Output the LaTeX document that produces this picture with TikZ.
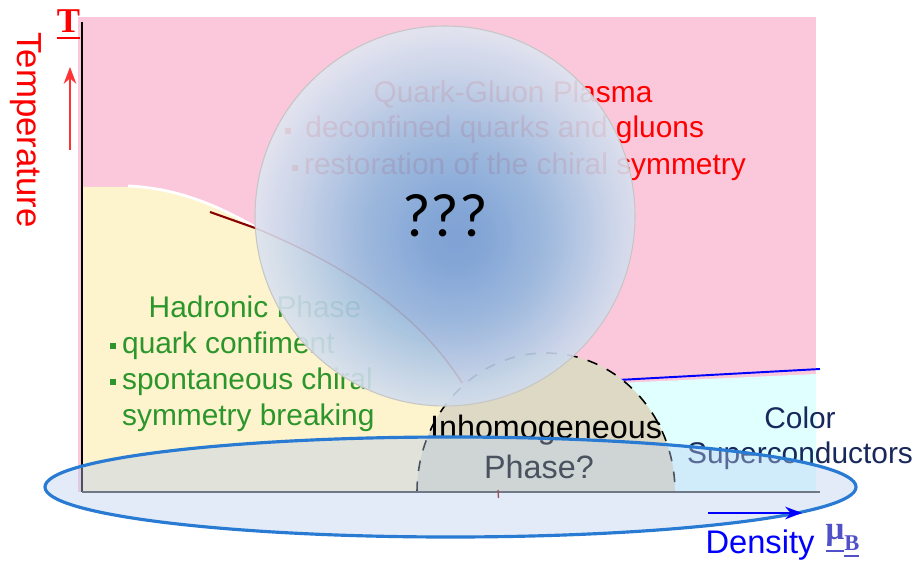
\documentclass[tikz,border=0pt]{standalone}
\usepackage{fontspec}
\setmainfont{Liberation Sans}
\newfontfamily\serifbf{Liberation Serif}
\newfontfamily\qfont{Carlito}
\usetikzlibrary{positioning, arrows.meta}

\definecolor{qgppink}{RGB}{251,199,219}
\definecolor{hadyellow}{RGB}{253,243,205}
\definecolor{cscyan}{RGB}{224,255,255}
\definecolor{inhomtan}{RGB}{222,217,196}
\definecolor{hadgreen}{RGB}{44,150,44}
\definecolor{csnavy}{RGB}{25,40,90}
\definecolor{ellblue}{RGB}{40,122,210}
\definecolor{ellfill}{RGB}{185,205,240}
\definecolor{mubl}{RGB}{80,80,200}
\definecolor{firstorder}{RGB}{139,0,0}

\pgfdeclareradialshading{bubble}{\pgfpoint{1.5bp}{-3bp}}{%
  rgb(0bp)=(0.45,0.62,0.83); rgb(4bp)=(0.47,0.64,0.84);
  rgb(12bp)=(0.58,0.72,0.87); rgb(21bp)=(0.78,0.84,0.92);
  rgb(27bp)=(0.89,0.91,0.95); rgb(50bp)=(0.89,0.91,0.95)}

\newcommand{\sqbullet}{\hspace{0.03em}\raisebox{0.28ex}{\rule{0.2em}{0.2em}}\hspace{0.22em}}

\begin{document}
\begin{tikzpicture}[
  >=Stealth,
  phasetxt/.style={font=\fontsize{8.5}{10.3}\selectfont, inner sep=0pt},
  inhomtxt/.style={font=\fontsize{9.2}{11.4}\selectfont, inner sep=0pt},
  axislbl/.style={font=\fontsize{9.3}{11}\selectfont, inner sep=0pt},
  axisline/.style={line width=0.6pt},
]
\useasboundingbox (0,0) rectangle (9.19,5.60);

% === Phase regions ===
\fill[qgppink] (0.78,0.68) rectangle (8.16,5.43);

\fill[hadyellow] (0.82,0.68) -- (0.82,3.73) -- (1.28,3.73)
  .. controls (1.75,3.71) and (2.15,3.55) .. (2.55,3.32)
  .. controls (3.2,3.05) and (4.1,2.6) .. (4.62,1.77)
  -- (4.7,0.68) -- cycle;
\draw[white, line width=0.8pt] (1.28,3.74)
  .. controls (1.75,3.72) and (2.15,3.56) .. (2.55,3.33);
\draw[firstorder, line width=0.6pt] (2.10,3.48) -- (2.55,3.32);

\fill[cscyan] (6.18,1.77) -- (8.16,1.86) -- (8.16,0.68) -- (6.0,0.68) -- cycle;
\draw[blue, line width=0.55pt] (6.18,1.80) -- (8.20,1.91);

% inhomogeneous dome
\filldraw[fill=inhomtan, dashed, line width=0.45pt]
  (4.17,0.68) arc[start angle=180, end angle=0, x radius=1.29, y radius=1.39] -- cycle;

% === Axes ===
\coordinate (origin) at (0.82,0.68);
\coordinate (ytop) at (0.82,5.38);
\coordinate (xend) at (8.20,0.68);
\draw[axisline, black] (ytop) -- (origin);
\draw[axisline, black!75] (origin) -- (xend);
\draw[firstorder, line width=0.4pt] (4.98,0.70) -- (4.985,0.62);

% === Phase labels ===
\node[phasetxt, text=red, anchor=base] (qgptitle) at (5.13,4.57) {Quark-Gluon Plasma};
\node[phasetxt, text=red, anchor=base west] (qgpdeconf) at (2.83,4.22)
  {\sqbullet\ deconfined quarks and gluons};
\node[phasetxt, text=red, anchor=base west] (qgpchiral) at (2.90,3.85)
  {\sqbullet restoration of the chiral symmetry};

\node[phasetxt, text=hadgreen, anchor=base] (hadtitle) at (2.55,2.43) {Hadronic Phase};
\node[phasetxt, text=hadgreen, anchor=base west] (hadconf) at (1.08,2.07)
  {\sqbullet quark confiment};
\node[phasetxt, text=hadgreen, anchor=base west] (hadchiral) at (1.08,1.71)
  {\sqbullet spontaneous chiral};
\node[phasetxt, text=hadgreen, anchor=base west] (hadbreak) at (1.08,1.35)
  {\phantom{\sqbullet}symmetry breaking};

\node[inhomtxt, anchor=base] (inhom) at (5.46,1.22) {Inhomogeneous};
\node[inhomtxt, anchor=base] (inhomq) at (5.39,0.82) {Phase?};

\node[phasetxt, text=csnavy, anchor=base] (cscolor) at (8.00,1.32) {Color};
\node[phasetxt, text=csnavy, anchor=base] (cssuper) at (8.00,0.97) {Superconductors};

% === Unknown region ===
\path[shading=bubble, fill opacity=0.9] (4.45,3.44) circle (1.90);
\draw[gray!45, line width=0.3pt] (4.45,3.44) circle (1.90);
\draw[firstorder, opacity=0.12, line width=0.4pt] (2.55,3.32)
  .. controls (3.2,3.05) and (4.1,2.6) .. (4.62,1.77);
\node[font=\qfont\fontsize{17.5}{20}\selectfont, inner sep=0pt, anchor=base]
  (unknown) at (4.45,3.23) {???};

% === Low temperature band ===
\filldraw[fill=ellfill, fill opacity=0.4, draw=ellblue, line width=0.9pt]
  (4.505,0.73) ellipse [x radius=4.055, y radius=0.50];

% === Axis labels ===
\node[font=\fontsize{9.9}{11}\selectfont, inner sep=0pt, text=red, rotate=-90,
  anchor=base] (templbl) at (0.17,4.30) {Temperature};
\node[font=\serifbf\bfseries\fontsize{9.9}{11}\selectfont, text=red, inner sep=0pt,
  anchor=base] (tsym) at (0.685,5.27) {\underline{T}};
\coordinate (tarrowlow) at (0.70,4.10);
\coordinate (tarrowhigh) at (0.70,4.93);
\draw[->, red!80, line width=0.4pt] (tarrowlow) -- (tarrowhigh);

\node[axislbl, text=blue, anchor=base] (denslbl) at (7.60,0.07) {Density};
\node[font=\serifbf\bfseries\fontsize{9.4}{11}\selectfont, text=mubl, inner sep=0pt,
  anchor=base west] (musym) at (8.25,0.21)
  {\underline{μ}\raisebox{-3.4pt}{\fontsize{6.4}{8}\selectfont\underline{B}}};
\coordinate (darrowleft) at (7.08,0.47);
\coordinate (darrowright) at (8.02,0.47);
\draw[->, blue, line width=0.4pt] (darrowleft) -- (darrowright);

\end{tikzpicture}
\end{document}
